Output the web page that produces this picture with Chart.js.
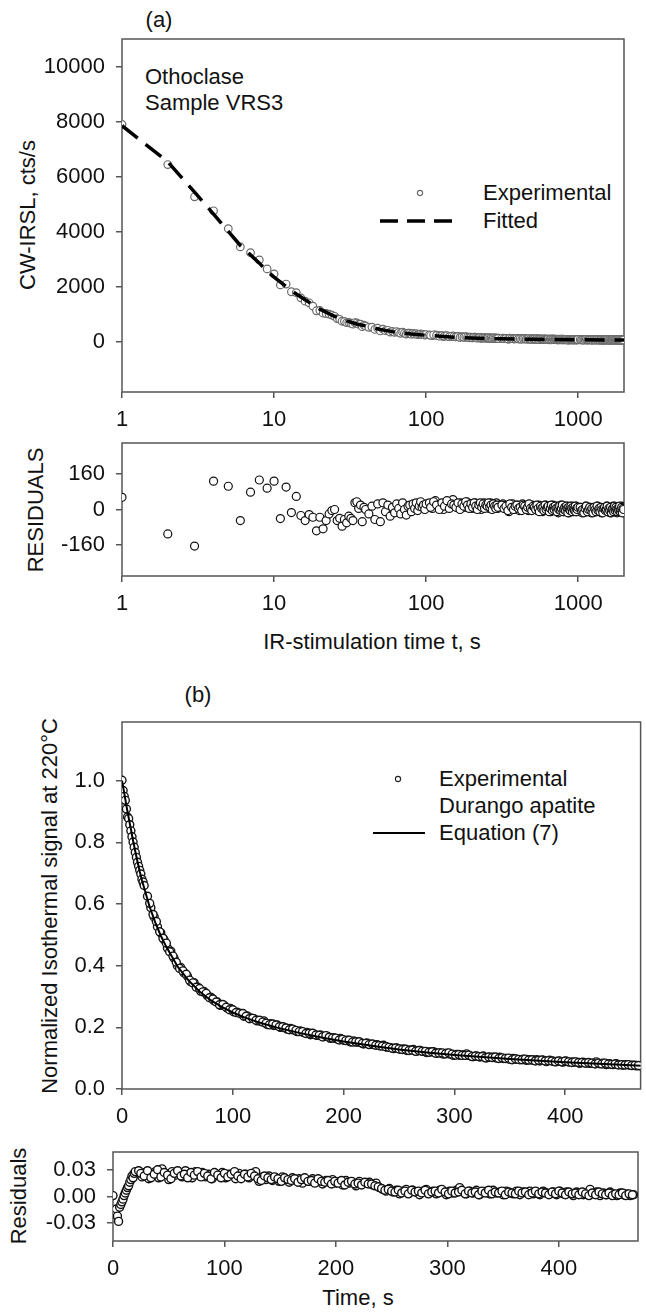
<!DOCTYPE html>
<html>
<head>
<meta charset="utf-8">
<script src="https://cdn.jsdelivr.net/npm/chart.js@4.4.1/dist/chart.umd.min.js"></script>
<style>
  body { margin: 0; background: #fff; width: 646px; height: 1313px; position: relative; overflow: hidden;
         font-family: "Liberation Sans", Arial, sans-serif; color: #111; }
  canvas { position: absolute; left: 0; }
  .t { position: absolute; font-size: 22px; line-height: 1; white-space: nowrap; }
  .c { transform: translate(-50%, -50%); }
  .r { transform: translate(-50%, -50%) rotate(-90deg); }
  .l { transform: translateY(-50%); }
</style>
</head>
<body>
<div class="t c" style="left:159px;top:20px">(a)</div>
<div class="t l" style="left:145px;top:77px">Othoclase</div>
<div class="t l" style="left:145px;top:103px">Sample VRS3</div>
<div class="t l" style="left:483px;top:193px">Experimental</div>
<div class="t l" style="left:483px;top:221px">Fitted</div>
<div class="t r" style="left:28px;top:215px">CW-IRSL, cts/s</div>
<div class="t r" style="left:36px;top:510px">RESIDUALS</div>
<div class="t c" style="left:372px;top:642px">IR-stimulation time t, s</div>

<div class="t c" style="left:198px;top:695px">(b)</div>
<div class="t l" style="left:439px;top:779px">Experimental</div>
<div class="t l" style="left:439px;top:806px">Durango apatite</div>
<div class="t l" style="left:439px;top:833px">Equation (7)</div>
<div class="t r" style="left:50px;top:906px">Normalized Isothermal signal at 220°C</div>
<div class="t r" style="left:19px;top:1196px">Residuals</div>
<div class="t c" style="left:358px;top:1298px">Time, s</div>

<script>
// ---- panel (a): CW-IRSL of orthoclase, log time axis ----
const timeA = [
  1,2,3,4,5,6,7,8,9,10,11,12,13,14,15,16,17,18,19,20,
  21,22,23,24,25,26,27,28,29,30,31,32,33,34,35,36,37,38,39,40,
  42,44,46,48,50,52,54,56,58,60,62,64,66,68,70,72,74,76,78,80,82,84,86,88,90,92,94,96,98,100,
  105,110,115,120,125,130,135,140,145,150,155,160,165,170,175,180,185,190,195,200,
  205,210,215,220,225,230,235,240,245,250,255,260,265,270,275,280,285,290,295,300,
  310,320,330,340,350,360,370,380,390,400,410,420,430,440,450,460,470,480,490,500,
  510,520,530,540,550,560,570,580,590,600,610,620,630,640,650,660,670,680,690,700,
  710,720,730,740,750,760,770,780,790,800,810,820,830,840,850,860,870,880,890,900,
  910,920,930,940,950,960,970,980,990,1000,
  1020,1040,1060,1080,1100,1120,1140,1160,1180,1200,1220,1240,1260,1280,1300,1320,1340,1360,1380,1400,
  1420,1440,1460,1480,1500,1520,1540,1560,1580,1600,1620,1640,1660,1680,1700,1720,1740,1760,1780,1800,
  1820,1840,1860,1880,1900,1920,1940,1960,1980,2000
];
const expA = [
  7900,6440,5270,4760,4110,3450,3240,2980,2650,2470,2070,2100,1820,1790,1600,1480,1420,1300,1130,1140,
  1043,1030,1010,975,930,845,820,750,745,700,708,676,644,702,685,641,642,553,604,580,
  530,537,452,498,397,463,406,420,356,383,346,375,345,311,352,314,282,315,313,277,306,281,301,261,276,292,263,269,245,266,
  258,227,255,223,225,195,225,194,200,220,187,192,168,190,177,163,185,163,170,147,
  160,168,146,159,147,130,148,157,135,149,138,126,150,139,128,142,131,145,119,133,
  127,136,115,129,98,122,131,105,114,123,97,116,125,105,109,118,92,111,101,115,
  95,104,109,88,113,97,102,81,106,90,110,94,84,103,98,77,92,106,86,95,
  80,99,89,68,93,82,102,76,86,95,70,80,89,74,94,79,63,88,83,73,
  93,78,68,88,83,73,93,68,78,83,
  72,87,62,81,76,91,66,80,70,85,60,75,85,70,79,64,89,74,69,84,
  58,78,73,63,82,67,87,62,72,77,57,82,67,71,86,61,76,66,81,56,
  71,76,61,81,66,71,86,58,73,63
];
const residA = [
  55,-110,-165,128,105,-50,78,133,96,128,-41,101,-14,59,-27,-50,-23,-35,-96,-35,
  -87,-50,-20,-5,0,-50,-40,-75,-45,-60,-30,-40,-50,30,35,5,20,-55,10,0,
  -20,15,-45,25,-55,30,-10,20,-30,10,-15,25,5,-20,30,0,-25,15,20,-10,25,5,30,-5,15,35,10,20,0,25,
  30,5,40,15,25,0,35,10,20,45,15,25,5,30,20,10,35,15,25,5,
  20,30,10,25,15,0,20,30,10,25,15,5,30,20,10,25,15,30,5,20,
  15,25,5,20,-10,15,25,0,10,20,-5,15,25,5,10,20,-5,15,5,20,
  0,10,15,-5,20,5,10,-10,15,0,20,5,-5,15,10,-10,5,20,0,10,
  -5,15,5,-15,10,0,20,-5,5,15,-10,0,10,-5,15,0,-15,10,5,-5,
  15,0,-10,10,5,-5,15,-10,0,5,
  -5,10,-15,5,0,15,-10,5,-5,10,-15,0,10,-5,5,-10,15,0,-5,10,
  -15,5,0,-10,10,-5,15,-10,0,5,-15,10,-5,0,15,-10,5,-5,10,-15,
  0,5,-10,10,-5,0,15,-10,5,-5
];
// extra readings in the dense tail, between the ones above
const timeA2 = [
  107,112,117,122,127,132,137,142,147,152,157,162,167,172,177,182,187,192,197,202,
  207,212,217,222,227,232,237,242,247,252,257,262,267,272,277,282,287,292,297,
  315,325,335,345,355,365,375,385,395,405,415,425,435,445,455,465,475,485,495,505,
  515,525,535,545,555,565,575,585,595,605,615,625,635,645,655,665,675,685,695,705,
  715,725,735,745,755,765,775,785,795,805,815,825,835,845,855,865,875,885,895,905,
  915,925,935,945,955,965,975,985,995,
  1030,1050,1070,1090,1110,1130,1150,1170,1190,1210,1230,1250,1270,1290,1310,1330,1350,1370,1390,1410,
  1430,1450,1470,1490,1510,1530,1550,1570,1590,1610,1630,1650,1670,1690,1710,1730,1750,1770,1790,1810,
  1830,1850,1870,1890,1910,1930,1950,1970,1990
];
const expA2 = [
  240,257,234,206,229,208,228,188,203,194,180,195,161,183,170,187,169,151,169,151,
  169,152,135,153,161,140,153,132,145,139,152,131,140,119,143,132,121,135,124,
  131,115,124,104,133,117,106,120,124,108,112,96,120,114,98,108,122,101,91,110,
  105,94,114,98,82,107,96,101,85,110,89,99,103,78,92,107,81,96,85,100,
  89,74,93,83,97,77,86,101,70,80,90,74,94,84,63,88,78,73,93,83,
  68,88,78,73,93,68,83,78,88,
  87,72,77,61,81,91,66,75,85,70,80,59,84,74,63,88,68,78,63,82,
  72,57,77,82,67,72,86,61,76,66,81,56,71,76,61,85,65,79,69,59,
  74,64,84,58,68,78,53,73,68
];
const residA2 = [
  10,35,20,0,30,15,40,5,25,20,10,30,0,25,15,35,20,5,25,10,
  30,15,0,20,30,10,25,5,20,15,30,10,20,0,25,15,5,20,10,
  20,5,15,-5,25,10,0,15,20,5,10,-5,20,15,0,10,25,5,-5,15,
  10,0,20,5,-10,15,5,10,-5,20,0,10,15,-10,5,20,-5,10,0,15,
  5,-10,10,0,15,-5,5,20,-10,0,10,-5,15,5,-15,10,0,-5,15,5,
  -10,10,0,-5,15,-10,5,0,10,
  10,-5,0,-15,5,15,-10,0,10,-5,5,-15,10,0,-10,15,-5,5,-10,10,
  0,-15,5,10,-5,0,15,-10,5,-5,10,-15,0,5,-10,15,-5,10,0,-10,
  5,-5,15,-10,0,10,-15,5,0
];
const fitTimeA = [1,2,3,4,5,6,7,8,9,10,12,14,16,18,20,25,30,35,40,50,60,70,80,100,130,160,200,250,300,400,500,700,1000,1500,2000];
const fitA = [7850,6540,5440,4640,4010,3500,3160,2860,2570,2350,2010,1740,1530,1350,1190,930,760,650,580,452,373,322,287,241,195,167,142,124,113,103,95,85,78,72,68];
const ticksA_x = [1, 10, 100, 1000];
const ticksA_y = [0, 2000, 4000, 6000, 8000, 10000];
const ticksA_res = [-160, 0, 160];

// ---- panel (b): isothermal signal of Durango apatite ----
const timeB = [
  0,1,2,3,4,5,6,7,8,9,10,11,12,13,14,15,16,17,18,19,20,
  23,26,29,32,35,38,41,44,47,50,53,56,59,62,65,68,71,74,77,80,83,86,89,92,95,98,101,104,107,110,113,116,119,122,125,128,
  131,134,137,140,143,146,149,152,155,158,161,164,167,170,173,176,179,182,185,188,191,194,197,200,203,206,209,212,215,218,221,224,227,230,
  233,236,239,242,245,248,251,254,257,260,263,266,269,272,275,278,281,284,287,290,
  293,296,299,302,305,308,311,314,317,320,323,326,329,332,335,338,341,344,347,350,
  353,356,359,362,365,368,371,374,377,380,383,386,389,392,395,398,401,404,407,410,
  413,416,419,422,425,428,431,434,437,440,443,446,449,452,455,458,461,464,467,
  25,28,31,34,37,40,43,46,49,52,55,58,61,64,67,70,73,76,79,82,85,88,91,94,97,100,103,106,109,112,115,118,121,124,127,
  130,133,136,139,142,145,148,151,154,157,160,163,166,169,172,175,178,181,184,187,190,193,196,199,202,205,208,211,214,217,220,223,226,229,
  232,235,238,241,244,247,250,253,256,259,262,265,268,271,274,277,280,283,286,289,
  292,295,298,301,304,307,310,313,316,319,322,325,328,331,334,337,340,343,346,349,
  352,355,358,361,364,367,370,373,376,379,382,385,388,391,394,397,400,403,406,409,
  412,415,418,421,424,427,430,433,436,439,442,445,448,451,454,457,460,463,466
];
const expB = [
  1.001,0.968,0.949,0.936,0.908,0.882,0.877,0.857,0.837,0.818,0.801,0.784,0.767,0.751,0.735,0.722,0.709,0.697,0.680,0.671,0.660,
  0.625,0.588,0.558,0.526,0.506,0.484,0.457,0.447,0.424,0.400,0.394,0.376,0.366,0.348,0.345,0.331,0.317,0.316,0.303,0.298,
  0.286,0.282,0.271,0.271,0.262,0.261,0.250,0.249,0.244,0.236,0.237,0.230,0.228,0.221,0.220,0.221,
  0.209,0.212,0.206,0.208,0.200,0.200,0.194,0.196,0.191,0.186,0.188,0.183,0.183,0.176,0.178,0.174,0.175,0.170,0.171,0.164,
  0.166,0.162,0.164,0.158,0.158,0.153,0.156,0.152,0.151,0.146,0.149,0.145,0.144,0.144,
  0.140,0.142,0.136,0.134,0.131,0.133,0.129,0.130,0.125,0.127,0.128,0.123,0.125,0.122,0.118,0.120,0.121,0.116,0.117,0.113,
  0.116,0.113,0.109,0.112,0.109,0.111,0.114,0.108,0.105,0.107,0.104,0.107,0.101,0.103,0.103,0.100,0.103,0.099,0.099,0.096,
  0.099,0.096,0.095,0.097,0.093,0.095,0.093,0.095,0.091,0.093,0.089,0.093,0.090,0.089,0.090,0.087,0.090,0.087,0.088,0.087,
  0.083,0.087,0.084,0.083,0.084,0.088,0.082,0.084,0.079,0.082,0.079,0.082,0.079,0.077,0.079,0.077,0.077,0.075,0.075,
  0.602,0.566,0.543,0.510,0.489,0.473,0.445,0.431,0.411,0.391,0.383,0.372,0.353,0.344,0.330,0.326,0.315,0.310,0.296,0.292,
  0.282,0.273,0.274,0.265,0.257,0.257,0.248,0.246,0.245,0.236,0.228,0.229,0.223,0.223,0.217,
  0.213,0.208,0.211,0.207,0.202,0.202,0.198,0.192,0.194,0.190,0.186,0.186,0.180,0.181,0.181,0.175,0.174,0.169,0.173,0.168,
  0.165,0.165,0.159,0.161,0.157,0.158,0.152,0.153,0.153,0.148,0.148,0.144,0.146,0.142,
  0.141,0.139,0.137,0.135,0.132,0.133,0.130,0.128,0.129,0.125,0.126,0.122,0.125,0.122,0.122,0.119,0.121,0.116,0.117,0.117,
  0.114,0.117,0.113,0.110,0.112,0.109,0.109,0.110,0.105,0.107,0.105,0.105,0.101,0.104,0.102,0.104,0.099,0.101,0.099,0.100,
  0.095,0.098,0.096,0.095,0.097,0.094,0.095,0.091,0.093,0.094,0.091,0.092,0.091,0.088,0.091,0.088,0.091,0.088,0.086,0.088,
  0.086,0.086,0.084,0.086,0.084,0.081,0.084,0.081,0.084,0.081,0.080,0.081,0.078,0.079,0.078,0.079,0.076,0.077,0.076
];
const residB = [
  0.001,-0.017,-0.019,-0.014,-0.022,-0.028,-0.012,-0.009,-0.006,-0.003,0.001,0.004,0.007,0.010,0.012,0.016,0.019,0.023,0.021,0.026,0.028,
  0.029,0.022,0.027,0.020,0.025,0.028,0.021,0.031,0.026,0.019,0.028,0.024,0.027,0.022,0.029,0.025,0.021,0.028,0.024,0.027,
  0.022,0.025,0.020,0.026,0.023,0.027,0.021,0.025,0.024,0.020,0.026,0.023,0.025,0.021,0.024,0.028,
  0.017,0.022,0.019,0.023,0.018,0.021,0.017,0.022,0.019,0.016,0.021,0.018,0.020,0.015,0.019,0.017,0.020,0.016,0.019,0.014,
  0.018,0.016,0.019,0.015,0.017,0.013,0.018,0.015,0.016,0.012,0.017,0.014,0.015,0.016,
  0.013,0.015,0.010,0.008,0.006,0.009,0.005,0.007,0.003,0.006,0.008,0.004,0.007,0.005,0.002,0.006,0.008,0.004,0.006,0.003,
  0.007,0.005,0.002,0.006,0.004,0.007,0.010,0.005,0.003,0.006,0.004,0.007,0.002,0.005,0.006,0.003,0.007,0.004,0.005,0.002,
  0.006,0.004,0.003,0.006,0.002,0.005,0.004,0.006,0.003,0.005,0.002,0.006,0.004,0.003,0.005,0.002,0.006,0.003,0.005,0.004,
  0.001,0.005,0.003,0.002,0.004,0.008,0.003,0.005,0.001,0.004,0.002,0.005,0.003,0.001,0.004,0.002,0.003,0.001,0.002,
  0.026,0.023,0.029,0.021,0.025,0.030,0.022,0.027,0.024,0.020,0.026,0.029,0.023,0.025,0.021,0.027,0.024,0.028,0.022,0.026,
  0.023,0.020,0.027,0.024,0.021,0.026,0.022,0.025,0.028,0.023,0.020,0.025,0.022,0.026,0.023,
  0.020,0.018,0.023,0.021,0.019,0.022,0.020,0.017,0.021,0.019,0.018,0.020,0.016,0.019,0.021,0.017,0.018,0.015,0.020,0.017,
  0.016,0.018,0.014,0.017,0.015,0.018,0.013,0.016,0.017,0.014,0.015,0.013,0.016,0.014,
  0.014,0.012,0.011,0.009,0.007,0.008,0.006,0.005,0.007,0.004,0.006,0.003,0.007,0.005,0.006,0.004,0.007,0.003,0.005,0.006,
  0.004,0.008,0.005,0.003,0.006,0.004,0.005,0.007,0.003,0.006,0.004,0.005,0.002,0.006,0.004,0.007,0.003,0.005,0.004,0.006,
  0.002,0.005,0.004,0.003,0.006,0.004,0.005,0.002,0.004,0.006,0.003,0.005,0.004,0.002,0.005,0.003,0.006,0.004,0.002,0.005,
  0.003,0.004,0.002,0.005,0.003,0.001,0.004,0.002,0.005,0.003,0.002,0.004,0.001,0.003,0.002,0.004,0.001,0.003,0.002
];
const fitTimeB = [0,2,4,6,8,10,12,14,16,18,20,25,30,35,40,50,60,70,80,90,100,110,120,130,140,160,180,200,230,250,275,300,350,400,450,470];
const fitB = [1.0,0.96,0.918,0.88,0.843,0.805,0.77,0.737,0.705,0.677,0.652,0.59,0.54,0.497,0.461,0.398,0.352,0.316,0.288,0.266,0.248,0.233,0.22,0.209,0.199,0.182,0.167,0.154,0.138,0.128,0.118,0.11,0.097,0.087,0.079,0.075];
const ticksB_x = [0, 100, 200, 300, 400];
const ticksB_y = [0, 0.2, 0.4, 0.6, 0.8, 1.0];
const ticksB_res = [-0.03, 0, 0.03];

const FONT = { family: '"Liberation Sans", Arial, sans-serif', size: 22 };
const AXIS = '#555';

function pts(xs, ys){ return xs.map((x, i) => ({ x, y: ys[i] })); }

function scales(o){
  const tickGrid = { display: true, drawOnChartArea: false, drawTicks: true, tickLength: 6, color: AXIS, lineWidth: 1.5 };
  return {
    x: {
      type: o.xType, min: o.xMin, max: o.xMax, border: { display: false }, grid: tickGrid,
      ticks: { font: FONT, color: '#111', padding: 9, maxRotation: 0, autoSkip: false, callback: o.xFmt },
      afterBuildTicks: s => { s.ticks = o.xTicks.map(v => ({ value: v })); },
      afterFit: s => { s.height = 45; s.paddingLeft = 0; s.paddingRight = 0; }
    },
    y: {
      type: 'linear', min: o.yMin, max: o.yMax, border: { display: false }, grid: tickGrid,
      ticks: { font: FONT, color: '#111', padding: 11, autoSkip: false, callback: o.yFmt },
      afterBuildTicks: s => { s.ticks = o.yTicks.map(v => ({ value: v })); },
      afterFit: s => { s.width = o.left; s.paddingTop = 0; s.paddingBottom = 0; }
    }
  };
}

// frame round the plot area, plus any legend symbols for this panel
function framePlugin(extra){
  return {
    id: 'frame',
    beforeDatasetsDraw(chart){
      const { ctx, chartArea: a } = chart;
      ctx.save();
      ctx.strokeStyle = AXIS; ctx.lineWidth = 1.5;
      ctx.strokeRect(a.left, a.top, a.right - a.left, a.bottom - a.top);
      ctx.restore();
    },
    afterDraw(chart){ if (extra) extra(chart.ctx); }
  };
}

function makePanel(top, height, right, datasets, axes, extra){
  const cv = document.createElement('canvas');
  cv.width = 646; cv.height = height; cv.style.top = top + 'px';
  document.body.appendChild(cv);
  return new Chart(cv, {
    type: 'scatter',
    data: { datasets },
    options: {
      responsive: false, animation: false, events: [],
      layout: { padding: { top: 10, right, bottom: 0, left: 0 } },
      plugins: { legend: { display: false }, tooltip: { enabled: false } },
      scales: scales(axes)
    },
    plugins: [framePlugin(extra)]
  });
}

function marker(color, r, w){
  return { showLine: false, pointRadius: r, pointBorderWidth: w, pointBorderColor: color, pointBackgroundColor: '#fff', order: 1 };
}

const fmtInt = v => String(v);

// (a) main
makePanel(29, 408, 22, [
  { data: pts(fitTimeA, fitA), showLine: true, pointRadius: 0, borderColor: '#000', borderWidth: 3.5, borderDash: [20, 10], order: 0 },
  Object.assign({ data: pts(timeA, expA).concat(pts(timeA2, expA2)) }, marker('#6a6a6a', 3.8, 1.2))
], { xType: 'logarithmic', xMin: 1, xMax: 2000, xTicks: ticksA_x, xFmt: fmtInt,
     yMin: -1820, yMax: 11000, yTicks: ticksA_y, yFmt: fmtInt, left: 122 },
  ctx => {
    const off = 29;
    ctx.save();
    ctx.beginPath(); ctx.arc(420, 193 - off, 2.6, 0, Math.PI * 2);
    ctx.fillStyle = '#fff'; ctx.fill(); ctx.strokeStyle = '#6a6a6a'; ctx.lineWidth = 1.1; ctx.stroke();
    ctx.beginPath(); ctx.setLineDash([18, 9]); ctx.moveTo(380, 221 - off); ctx.lineTo(453, 221 - off);
    ctx.strokeStyle = '#000'; ctx.lineWidth = 3.5; ctx.stroke();
    ctx.restore();
  });

// (a) residuals
makePanel(433, 188, 22, [
  Object.assign({ data: pts(timeA, residA).concat(pts(timeA2, residA2)) }, marker('#111', 4, 1.2))
], { xType: 'logarithmic', xMin: 1, xMax: 2000, xTicks: ticksA_x, xFmt: fmtInt,
     yMin: -300, yMax: 300, yTicks: ticksA_res, yFmt: fmtInt, left: 122 });

// (b) main
makePanel(712, 422, 1, [
  { data: pts(fitTimeB, fitB), showLine: true, pointRadius: 0, borderColor: '#000', borderWidth: 2, order: 0 },
  Object.assign({ data: pts(timeB, expB) }, marker('#151515', 4, 1.4))
], { xType: 'linear', xMin: 0, xMax: 468, xTicks: ticksB_x, xFmt: fmtInt,
     yMin: 0, yMax: 1.19, yTicks: ticksB_y, yFmt: v => v.toFixed(1), left: 122 },
  ctx => {
    const off = 712;
    ctx.save();
    ctx.beginPath(); ctx.arc(398, 779 - off, 2.6, 0, Math.PI * 2);
    ctx.fillStyle = '#fff'; ctx.fill(); ctx.strokeStyle = '#222'; ctx.lineWidth = 1.1; ctx.stroke();
    ctx.beginPath(); ctx.moveTo(373, 833 - off); ctx.lineTo(425, 833 - off);
    ctx.strokeStyle = '#000'; ctx.lineWidth = 2; ctx.stroke();
    ctx.restore();
  });

// (b) residuals
makePanel(1142, 144, 8, [
  Object.assign({ data: pts(timeB, residB) }, marker('#111', 4, 1.4))
], { xType: 'linear', xMin: 0, xMax: 471, xTicks: ticksB_x, xFmt: fmtInt,
     yMin: -0.05, yMax: 0.05, yTicks: ticksB_res, yFmt: v => v.toFixed(2), left: 113 });
</script>
</body>
</html>
